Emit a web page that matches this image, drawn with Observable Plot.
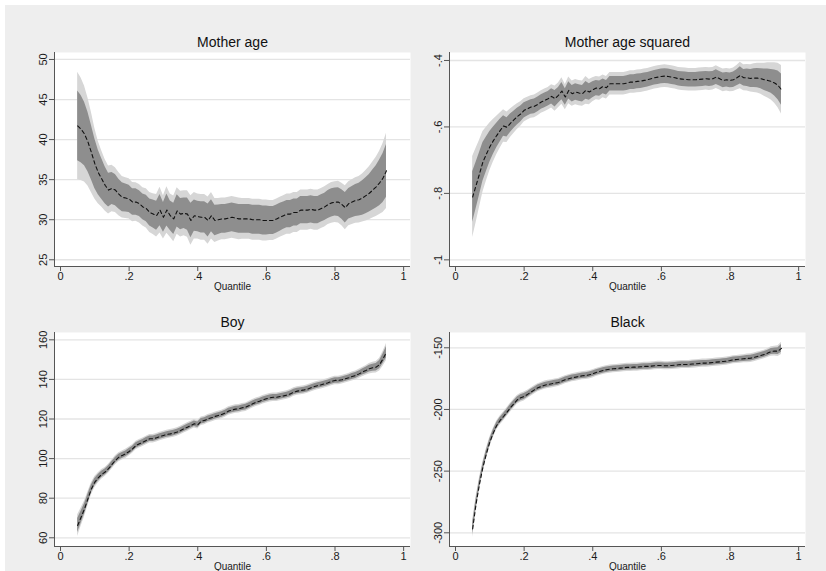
<!DOCTYPE html>
<html><head><meta charset="utf-8">
<script src="https://cdn.jsdelivr.net/npm/d3@7"></script>
<script src="https://cdn.jsdelivr.net/npm/@observablehq/plot@0.6"></script>
<style>
html,body{margin:0;padding:0;background:#fff;}
#chart{position:relative;width:826px;height:571px;overflow:hidden;}
#bg{position:absolute;left:5px;top:5px;right:0;bottom:0;background:#eeeeee;}
.panel{position:absolute;}
</style></head><body>
<div id="chart"><div id="bg"></div></div>
<script>
const quantiles = [
0.05,0.06,0.07,0.08,0.09,0.10,0.11,0.12,0.13,0.14,
0.15,0.16,0.17,0.18,0.19,0.20,0.21,0.22,0.23,0.24,
0.25,0.26,0.27,0.28,0.29,0.30,0.31,0.32,0.33,0.34,
0.35,0.36,0.37,0.38,0.39,0.40,0.41,0.42,0.43,0.44,
0.45,0.46,0.47,0.48,0.49,0.50,0.51,0.52,0.53,0.54,
0.55,0.56,0.57,0.58,0.59,0.60,0.61,0.62,0.63,0.64,
0.65,0.66,0.67,0.68,0.69,0.70,0.71,0.72,0.73,0.74,
0.75,0.76,0.77,0.78,0.79,0.80,0.81,0.82,0.83,0.84,
0.85,0.86,0.87,0.88,0.89,0.90,0.91,0.92,0.93,0.94,
0.95];

const xTicks = [0, 0.2, 0.4, 0.6, 0.8, 1];
const xTickLabels = ["0", ".2", ".4", ".6", ".8", "1"];

// Mother age
const motherAgeEst = [
41.7,41.3,40.7,39.7,38.4,37.0,35.9,35.1,34.3,33.7,
33.9,33.7,33.2,32.8,32.7,32.6,32.2,32.2,32.0,31.6,
31.4,30.9,30.7,30.5,31.2,30.3,31.2,30.5,30.1,31.1,
30.7,30.8,30.7,29.9,30.5,30.4,30.3,30.3,29.9,30.5,
29.9,30.0,30.1,30.1,30.2,30.3,30.2,30.1,30.1,30.1,
30.1,30.0,30.0,30.0,29.9,29.9,29.9,29.9,30.1,30.3,
30.5,30.7,30.7,30.9,30.9,31.2,31.2,31.2,31.3,31.2,
31.2,31.4,31.6,31.9,32.1,32.2,32.2,31.9,31.5,32.0,
32.2,32.4,32.5,32.7,33.0,33.3,33.7,34.1,34.6,35.2,
36.1];
const motherAgeInner = [
4.35,4.2,3.95,3.7,3.4,3.1,2.8,2.55,2.3,2.1,
2.0,1.95,1.85,1.8,1.75,1.7,1.65,1.65,1.6,1.6,
1.65,1.7,1.75,1.8,1.95,1.85,2.0,1.85,1.95,2.0,
1.95,1.9,2.0,2.15,1.95,1.9,1.95,1.95,2.05,2.0,
1.9,1.85,1.8,1.8,1.8,1.8,1.8,1.8,1.8,1.8,
1.8,1.8,1.8,1.8,1.8,1.8,1.75,1.75,1.75,1.75,
1.7,1.7,1.7,1.7,1.7,1.7,1.7,1.7,1.7,1.7,
1.7,1.7,1.7,1.75,1.75,1.75,1.8,1.85,1.9,1.9,
1.95,2.0,2.05,2.15,2.25,2.35,2.5,2.65,2.85,3.05,
3.3];
const motherAgeOuter = [
6.7,6.4,6.0,5.5,5.0,4.4,3.9,3.5,3.2,3.0,
2.9,2.8,2.7,2.6,2.55,2.5,2.45,2.4,2.4,2.4,
2.45,2.5,2.55,2.65,2.85,2.7,2.9,2.7,2.85,2.9,
2.85,2.8,2.9,3.1,2.9,2.8,2.85,2.85,2.95,2.9,
2.75,2.65,2.6,2.6,2.6,2.6,2.6,2.6,2.55,2.55,
2.55,2.55,2.55,2.55,2.55,2.55,2.5,2.5,2.5,2.5,
2.5,2.5,2.5,2.5,2.5,2.5,2.5,2.5,2.5,2.5,
2.5,2.5,2.5,2.5,2.55,2.55,2.6,2.65,2.75,2.75,
2.8,2.85,2.9,3.0,3.15,3.3,3.5,3.7,3.95,4.3,
4.7];
const motherAgeTicks = [25, 30, 35, 40, 45, 50];
const motherAgeTickLabels = ["25", "30", "35", "40", "45", "50"];

// Mother age squared
const motherAgeSqEst = [
-0.811,-0.776,-0.741,-0.705,-0.682,-0.660,-0.642,-0.626,-0.611,-0.597,
-0.601,-0.589,-0.579,-0.569,-0.561,-0.550,-0.545,-0.540,-0.538,-0.532,
-0.525,-0.520,-0.515,-0.508,-0.515,-0.505,-0.492,-0.510,-0.490,-0.500,
-0.495,-0.498,-0.500,-0.490,-0.495,-0.488,-0.483,-0.485,-0.478,-0.482,
-0.470,-0.470,-0.470,-0.470,-0.470,-0.468,-0.465,-0.465,-0.463,-0.462,
-0.460,-0.458,-0.455,-0.452,-0.450,-0.448,-0.447,-0.448,-0.450,-0.452,
-0.455,-0.456,-0.457,-0.458,-0.458,-0.458,-0.457,-0.456,-0.455,-0.456,
-0.455,-0.450,-0.455,-0.460,-0.458,-0.460,-0.458,-0.452,-0.445,-0.452,
-0.452,-0.454,-0.453,-0.453,-0.455,-0.458,-0.460,-0.463,-0.468,-0.475,
-0.488];
const motherAgeSqInner = [
0.076,0.070,0.064,0.058,0.052,0.046,0.041,0.037,0.034,0.031,
0.029,0.028,0.026,0.025,0.024,0.023,0.022,0.022,0.022,0.022,
0.022,0.022,0.022,0.023,0.025,0.024,0.026,0.025,0.026,0.025,
0.025,0.025,0.025,0.027,0.025,0.024,0.023,0.023,0.022,0.022,
0.022,0.022,0.022,0.022,0.022,0.022,0.022,0.022,0.022,0.022,
0.022,0.022,0.022,0.022,0.022,0.022,0.022,0.022,0.022,0.022,
0.022,0.022,0.022,0.022,0.022,0.022,0.022,0.022,0.022,0.022,
0.022,0.022,0.022,0.022,0.022,0.022,0.023,0.024,0.026,0.025,
0.026,0.027,0.028,0.029,0.030,0.032,0.034,0.036,0.039,0.043,
0.047];
const motherAgeSqOuter = [
0.122,0.112,0.101,0.091,0.081,0.072,0.064,0.058,0.053,0.049,
0.046,0.043,0.041,0.039,0.037,0.035,0.034,0.034,0.034,0.034,
0.034,0.034,0.034,0.035,0.038,0.037,0.040,0.038,0.040,0.038,
0.038,0.038,0.038,0.042,0.038,0.036,0.035,0.035,0.034,0.034,
0.034,0.034,0.034,0.034,0.034,0.034,0.034,0.034,0.034,0.034,
0.034,0.034,0.034,0.034,0.034,0.034,0.034,0.034,0.034,0.034,
0.034,0.034,0.034,0.034,0.034,0.034,0.034,0.034,0.034,0.034,
0.034,0.034,0.034,0.034,0.034,0.034,0.035,0.037,0.040,0.039,
0.040,0.041,0.043,0.045,0.047,0.050,0.053,0.056,0.061,0.067,
0.073];
const motherAgeSqTicks = [-1, -0.8, -0.6, -0.4];
const motherAgeSqTickLabels = ["-1", "-.8", "-.6", "-.4"];

// Boy
const boyEst = [
66.2,70.4,74.6,79.7,84.7,88.1,90.3,92.0,93.2,94.9,
97.0,99.1,100.7,101.6,102.4,103.6,104.9,106.6,107.5,108.3,
109.2,110.0,110.0,110.5,111.2,111.7,112.2,112.5,112.9,113.4,
114.2,115.1,115.9,116.7,117.6,117.1,118.9,119.3,120.1,120.6,
121.3,121.8,122.3,123.0,124.0,124.6,125.0,125.2,125.7,126.0,
126.8,127.7,128.5,129.0,129.7,130.2,130.7,131.0,131.0,131.4,
131.7,132.1,132.7,133.6,134.1,134.4,134.7,135.1,135.8,136.4,
136.9,137.3,137.8,138.3,139.0,139.5,139.5,139.8,140.3,140.8,
141.5,142.0,142.8,143.7,144.5,145.4,145.9,146.2,147.5,150.4,
153.8];
const boyInner = [
3.5,3.0,2.6,2.3,2.0,1.8,1.7,1.6,1.5,1.5,
1.5,1.5,1.5,1.5,1.5,1.5,1.4,1.4,1.4,1.4,
1.4,1.4,1.4,1.4,1.4,1.4,1.4,1.4,1.4,1.4,
1.4,1.4,1.4,1.4,1.4,1.4,1.4,1.4,1.4,1.4,
1.4,1.4,1.4,1.4,1.4,1.4,1.4,1.4,1.4,1.4,
1.4,1.4,1.4,1.4,1.4,1.4,1.4,1.4,1.4,1.4,
1.4,1.4,1.4,1.4,1.4,1.4,1.4,1.4,1.4,1.4,
1.4,1.4,1.4,1.4,1.4,1.4,1.4,1.4,1.4,1.4,
1.5,1.5,1.5,1.5,1.6,1.7,1.8,1.9,2.1,2.4,
2.8];
const boyOuter = [
5.5,4.6,4.0,3.5,3.1,2.8,2.6,2.45,2.3,2.3,
2.3,2.3,2.3,2.3,2.3,2.3,2.15,2.15,2.15,2.15,
2.15,2.15,2.15,2.15,2.15,2.15,2.15,2.15,2.15,2.15,
2.15,2.15,2.15,2.15,2.15,2.15,2.15,2.15,2.15,2.15,
2.15,2.15,2.15,2.15,2.15,2.15,2.15,2.15,2.15,2.15,
2.15,2.15,2.15,2.15,2.15,2.15,2.15,2.15,2.15,2.15,
2.15,2.15,2.15,2.15,2.15,2.15,2.15,2.15,2.15,2.15,
2.15,2.15,2.15,2.15,2.15,2.15,2.15,2.15,2.15,2.15,
2.3,2.3,2.3,2.3,2.45,2.6,2.75,2.9,3.2,3.7,
4.3];
const boyTicks = [60, 80, 100, 120, 140, 160];
const boyTickLabels = ["60", "80", "100", "120", "140", "160"];

// Black
const blackEst = [
-296.8,-276.5,-260.3,-246.8,-235.9,-226.5,-219.2,-213.0,-208.9,-205.7,
-202.2,-198.6,-195.4,-192.2,-190.5,-189.5,-187.8,-185.9,-184.1,-182.4,
-181.4,-180.3,-179.7,-179.2,-178.6,-178.1,-177.0,-175.9,-175.1,-174.3,
-173.8,-173.2,-172.7,-172.4,-171.9,-171.1,-170.0,-169.2,-168.4,-167.8,
-167.3,-167.0,-166.8,-166.5,-166.2,-165.9,-165.9,-165.7,-165.7,-165.4,
-165.1,-165.1,-164.9,-164.6,-164.3,-164.3,-164.6,-164.6,-164.3,-164.1,
-163.8,-163.5,-163.5,-163.5,-163.2,-163.0,-162.7,-162.4,-162.4,-162.2,
-161.9,-161.6,-161.4,-161.1,-160.8,-160.3,-159.7,-159.5,-159.2,-158.9,
-158.6,-158.4,-157.8,-157.0,-156.2,-155.4,-154.3,-153.0,-152.7,-152.7,
-150.5];
const blackInner = [
4.5,3.8,3.3,3.0,2.8,2.6,2.5,2.4,2.4,2.4,
2.4,2.4,2.4,2.4,2.4,2.4,2.2,2.2,2.2,2.2,
2.2,2.2,2.2,2.2,2.2,2.2,2.2,2.2,2.2,2.2,
2.2,2.2,2.2,2.2,2.2,2.2,2.2,2.2,2.2,2.2,
2.2,2.2,2.2,2.2,2.2,2.2,2.2,2.2,2.2,2.2,
2.2,2.2,2.2,2.2,2.2,2.2,2.2,2.2,2.2,2.2,
2.2,2.2,2.2,2.2,2.2,2.2,2.2,2.2,2.2,2.2,
2.2,2.2,2.2,2.2,2.2,2.2,2.2,2.2,2.2,2.2,
2.3,2.3,2.3,2.3,2.3,2.3,2.4,2.5,2.6,2.8,
3.2];
const blackOuter = [
7.0,5.9,5.1,4.6,4.3,4.0,3.8,3.6,3.6,3.6,
3.6,3.6,3.6,3.6,3.6,3.6,3.3,3.3,3.3,3.3,
3.3,3.3,3.3,3.3,3.3,3.3,3.3,3.3,3.3,3.3,
3.3,3.3,3.3,3.3,3.3,3.3,3.3,3.3,3.3,3.3,
3.3,3.3,3.3,3.3,3.3,3.3,3.3,3.3,3.3,3.3,
3.3,3.3,3.3,3.3,3.3,3.3,3.3,3.3,3.3,3.3,
3.3,3.3,3.3,3.3,3.3,3.3,3.3,3.3,3.3,3.3,
3.3,3.3,3.3,3.3,3.3,3.3,3.3,3.3,3.3,3.3,
3.5,3.5,3.5,3.5,3.5,3.5,3.6,3.8,4.0,4.3,
5.0];
const blackTicks = [-300, -250, -200, -150];
const blackTickLabels = ["-300", "-250", "-200", "-150"];

const FONT = "'Liberation Sans', Arial, Helvetica, sans-serif";
const xDomain = [-0.0175, 1.02];

function panel(o) {
  const data = quantiles.map((q, i) => ({
    q, est: o.est[i],
    lo1: o.est[i] - o.inner[i], hi1: o.est[i] + o.inner[i],
    lo2: o.est[i] - o.outer[i], hi2: o.est[i] + o.outer[i]
  }));
  const svg = Plot.plot({
    width: o.width, height: o.height,
    marginLeft: o.ml, marginRight: o.mr, marginTop: o.mt, marginBottom: o.mb,
    x: {domain: xDomain},
    y: {domain: o.yDomain},
    style: {background: "transparent", fontFamily: FONT, fontSize: "11px", color: "#1a1a1a", overflow: "visible"},
    marks: [
      Plot.frame({fill: "white", stroke: null}),
      Plot.ruleY(o.ticks, {stroke: "#e4e4e4", strokeWidth: 1.3}),
      Plot.areaY(data, {x: "q", y1: "lo2", y2: "hi2", fill: "#d6d6d6"}),
      Plot.areaY(data, {x: "q", y1: "lo1", y2: "hi1", fill: "#8e8e8e"}),
      Plot.line(data, {x: "q", y: "est", stroke: "#111", strokeWidth: 1.1, strokeDasharray: "3.5,3"}),
      Plot.ruleX([xDomain[0]], {stroke: "#555"}),
      Plot.ruleY([o.yDomain[0]], {stroke: "#555"}),
      Plot.axisX({ticks: xTicks, tickSize: 5, tickPadding: 1, stroke: "#555",
        tickFormat: d => xTickLabels[xTicks.indexOf(d)], label: null, fontSize: 11}),
      Plot.axisY({ticks: o.ticks, tickSize: 5, stroke: "#555", tickFormat: () => "", label: null}),
      Plot.text(o.ticks, {y: d => d, text: d => o.tickLabels[o.ticks.indexOf(d)],
        frameAnchor: "left", dx: -11, rotate: -90, textAnchor: "middle", lineAnchor: "middle", fontSize: 11}),
      Plot.text([o.title], {text: d => d, frameAnchor: "top", dy: -10, fontSize: 14, lineAnchor: "middle", fill: "#111"}),
      Plot.text(["Quantile"], {text: d => d, frameAnchor: "bottom", dy: 20, fontSize: 10, lineAnchor: "middle"})
    ]
  });
  const div = document.createElement("div");
  div.className = "panel";
  div.style.left = o.left + "px";
  div.style.top = o.top + "px";
  div.appendChild(svg);
  document.getElementById("chart").appendChild(div);
}

panel({title: "Mother age", est: motherAgeEst, inner: motherAgeInner, outer: motherAgeOuter,
  ticks: motherAgeTicks, tickLabels: motherAgeTickLabels, yDomain: [24.16, 50.87],
  left: 0, top: 0, width: 413, height: 290, ml: 54, mr: 3, mt: 52, mb: 24});
panel({title: "Mother age squared", est: motherAgeSqEst, inner: motherAgeSqInner, outer: motherAgeSqOuter,
  ticks: motherAgeSqTicks, tickLabels: motherAgeSqTickLabels, yDomain: [-1.02, -0.376],
  left: 413, top: 0, width: 413, height: 290, ml: 36, mr: 21, mt: 52, mb: 24});
panel({title: "Boy", est: boyEst, inner: boyInner, outer: boyOuter,
  ticks: boyTicks, tickLabels: boyTickLabels, yDomain: [55.6, 163.7],
  left: 0, top: 290, width: 413, height: 281, ml: 54, mr: 3, mt: 42, mb: 25});
panel({title: "Black", est: blackEst, inner: blackInner, outer: blackOuter,
  ticks: blackTicks, tickLabels: blackTickLabels, yDomain: [-311.1, -137.6],
  left: 413, top: 290, width: 413, height: 281, ml: 36, mr: 21, mt: 42, mb: 25});
</script>
</body></html>
